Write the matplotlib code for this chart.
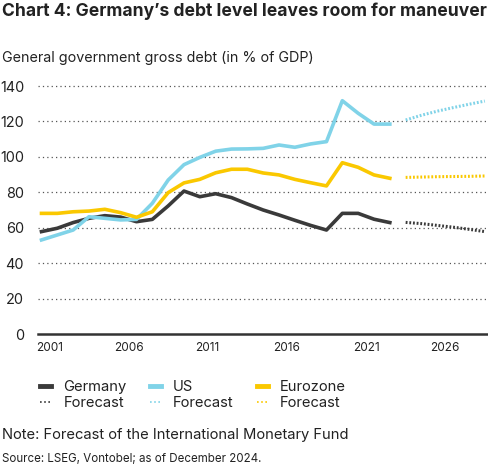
import matplotlib
matplotlib.use("Agg")
import matplotlib.pyplot as plt
from matplotlib.lines import Line2D

plt.rcParams['font.family'] = ['Inter', 'DejaVu Sans']

years_hist = list(range(2001, 2024))
years_fc = list(range(2024, 2030))

germany = [57.8, 59.7, 62.9, 65.3, 66.8, 66.0, 63.4, 64.7, 72.3, 80.7, 77.5, 79.2,
           77.0, 73.4, 70.0, 67.2, 64.2, 61.3, 58.7, 68.1, 68.1, 64.8, 62.9]
us = [53.1, 55.9, 58.7, 66.2, 65.3, 64.4, 64.7, 73.8, 86.9, 95.6, 99.7, 103.2,
      104.4, 104.5, 104.8, 106.7, 105.4, 107.3, 108.6, 131.7, 124.6, 118.5, 118.5]
eurozone = [68.1, 68.1, 69.0, 69.4, 70.4, 68.5, 65.9, 69.0, 79.8, 85.3, 87.3, 91.0,
            93.0, 93.0, 90.9, 89.8, 87.3, 85.4, 83.6, 96.7, 94.1, 89.8, 87.9]

germany_fc = [63.0, 62.3, 61.3, 60.3, 59.1, 57.8]
us_fc = [120.8, 123.5, 125.8, 127.8, 129.7, 131.5]
eurozone_fc = [88.4, 88.6, 88.8, 88.9, 89.0, 89.2]

x_tick_labels = ['2001', '2006', '2011', '2016', '2021', '2026']
y_ticks = [0, 20, 40, 60, 80, 100, 120, 140]

c_de = '#3a3a3a'
c_us = '#80d3e8'
c_ez = '#fac800'

W, H = 489, 468
fig = plt.figure(figsize=(W / 100, H / 100), dpi=100)
ax = fig.add_axes([38 / W, (H - 334) / H, 450 / W, (334 - 86) / H])

lw = 2.6
ax.plot(years_hist, germany, color=c_de, lw=lw, clip_on=False, zorder=3)
ax.plot(years_hist, us, color=c_us, lw=lw, clip_on=False, zorder=3)
ax.plot(years_hist, eurozone, color=c_ez, lw=lw, clip_on=False, zorder=3)
fc_style = dict(lw=2.2, linestyle=(0, (0.6, 0.6)), clip_on=False, zorder=3)
ax.plot(years_fc, germany_fc, color=c_de, **fc_style)
ax.plot(years_fc, us_fc, color=c_us, **fc_style)
ax.plot(years_fc, eurozone_fc, color=c_ez, **fc_style)

ax.set_xlim(2000.78, 2029.2)
ax.set_ylim(0, 140)

for v in y_ticks[1:]:
    ax.axhline(v, color='#555555', lw=0.9, linestyle=(0, (1, 2.5)), zorder=1, clip_on=False)
ax.axhline(0, color='#333333', lw=1.8, zorder=2, clip_on=False)

for s in ax.spines.values():
    s.set_visible(False)

ax.set_yticks(y_ticks)
ax.set_yticklabels([str(v) for v in y_ticks], fontsize=10.4, color='#222222')
ax.tick_params(axis='y', length=0, pad=10)
ax.set_xticks([int(t) + 0.5 for t in x_tick_labels])
ax.set_xticklabels(x_tick_labels, fontsize=8.5, color='#222222')
ax.tick_params(axis='x', length=0, pad=6)

fig.text(2 / W, 1 - 11 / H, "Chart 4: Germany\u2019s debt level leaves room for maneuver",
         fontsize=12.6, fontweight='bold', color='#222222', va='center', ha='left')
fig.text(2 / W, 1 - 58 / H, "General government gross debt (in % of GDP)",
         fontsize=10.3, color='#222222', va='center', ha='left')

handles = [
    Line2D([], [], color=c_de, lw=3.5),
    Line2D([], [], color=c_de, lw=1.2, linestyle=(0, (1, 1.5))),
    Line2D([], [], color=c_us, lw=3.5),
    Line2D([], [], color=c_us, lw=1.2, linestyle=(0, (1, 1.5))),
    Line2D([], [], color=c_ez, lw=3.5),
    Line2D([], [], color=c_ez, lw=1.2, linestyle=(0, (1, 1.5))),
]
labels = ['Germany', 'Forecast', 'US', 'Forecast', 'Eurozone', 'Forecast']
fig.legend(handles, labels, ncol=3, loc='upper left',
           bbox_to_anchor=(40 / W, 1 - 380 / H), frameon=False,
           fontsize=10.6, handlelength=0.75, handletextpad=0.85,
           columnspacing=1.55, labelspacing=0.15, borderpad=0, borderaxespad=0,
           labelcolor='#222222')

fig.text(2 / W, 1 - 435 / H, "Note: Forecast of the International Monetary Fund",
         fontsize=10.6, color='#222222', va='center', ha='left')
fig.text(2 / W, 1 - 459 / H, "Source: LSEG, Vontobel; as of December 2024.",
         fontsize=8.3, color='#222222', va='center', ha='left')

fig.savefig('out.png', dpi=100)
